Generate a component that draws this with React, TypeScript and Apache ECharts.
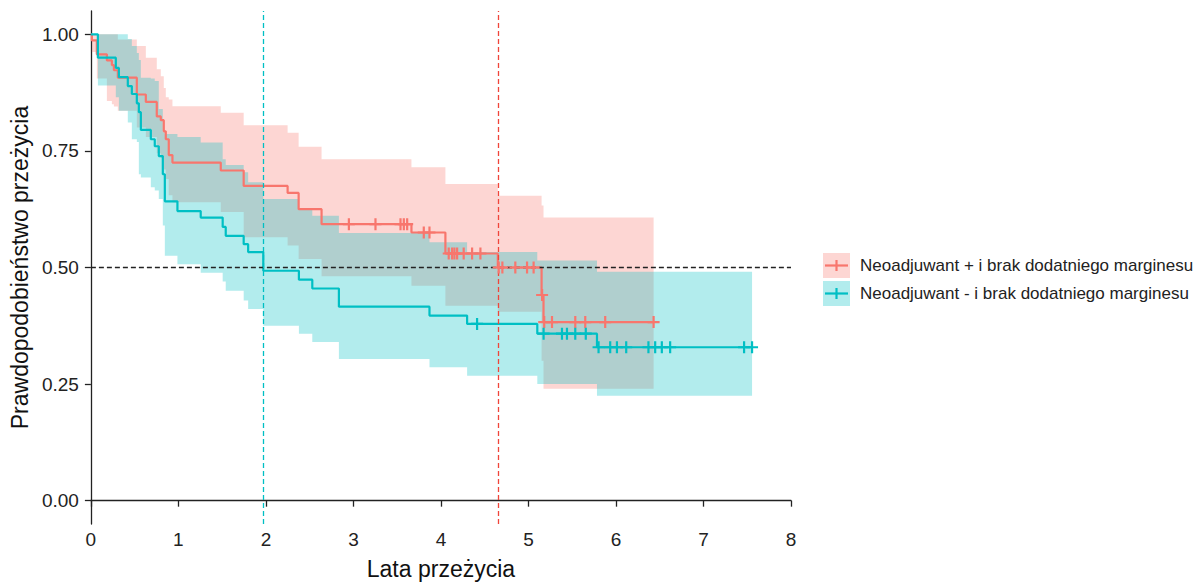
import React, { useEffect, useRef } from "react";
import * as echarts from "echarts";

const groupNames = [
  "Neoadjuwant + i brak dodatniego marginesu",
  "Neoadjuwant - i brak dodatniego marginesu",
];
const RED = "#F8766D";
const TEAL = "#00BFC4";

// Kaplan-Meier: Neoadjuwant +
const redTime = [0, 0.011, 0.068, 0.183, 0.24, 0.263, 0.308, 0.525, 0.628, 0.753, 0.799, 0.833, 0.856, 0.89, 0.932, 1.484, 1.746, 2.248, 2.374, 2.636, 3.663, 4.051, 4.65, 5.15, 5.172, 6.43];
const redSurv = [1.0, 0.987, 0.957, 0.944, 0.934, 0.923, 0.907, 0.871, 0.855, 0.824, 0.816, 0.792, 0.775, 0.741, 0.725, 0.708, 0.675, 0.66, 0.625, 0.593, 0.575, 0.53, 0.5, 0.441, 0.383, 0.383];
const redUpper = [1.0, 1.0, 1.0, 1.0, 1.0, 1.0, 0.989, 0.975, 0.95, 0.925, 0.91, 0.885, 0.865, 0.86, 0.846, 0.832, 0.805, 0.789, 0.759, 0.732, 0.715, 0.679, 0.654, 0.633, 0.607, 0.607];
const redLower = [1.0, 0.962, 0.905, 0.857, 0.85, 0.845, 0.836, 0.8, 0.78, 0.745, 0.735, 0.71, 0.69, 0.655, 0.64, 0.619, 0.565, 0.547, 0.518, 0.481, 0.461, 0.418, 0.405, 0.3, 0.24, 0.24];
const redCensor = [2.948, 3.252, 3.538, 3.576, 3.614, 3.804, 3.869, 4.089, 4.128, 4.154, 4.185, 4.26, 4.356, 4.451, 4.66, 4.702, 4.85, 4.984, 5.059, 5.156, 5.18, 5.269, 5.535, 5.649, 5.877, 6.43];

// Kaplan-Meier: Neoadjuwant -
const tealTime = [0, 0.08, 0.285, 0.32, 0.422, 0.468, 0.525, 0.548, 0.571, 0.685, 0.73, 0.776, 0.822, 0.845, 0.989, 1.255, 1.506, 1.541, 1.746, 1.797, 1.97, 2.377, 2.53, 2.834, 3.869, 4.299, 5.101, 5.783, 7.555];
const tealSurv = [1.0, 0.95, 0.928, 0.908, 0.889, 0.872, 0.852, 0.833, 0.795, 0.775, 0.76, 0.739, 0.7, 0.642, 0.621, 0.607, 0.587, 0.568, 0.55, 0.533, 0.493, 0.474, 0.455, 0.416, 0.397, 0.379, 0.358, 0.329, 0.329];
const tealUpper = [1.0, 1.0, 1.0, 1.0, 0.99, 0.975, 0.96, 0.945, 0.907, 0.905, 0.9, 0.84, 0.79, 0.786, 0.78, 0.768, 0.732, 0.72, 0.704, 0.683, 0.647, 0.625, 0.611, 0.574, 0.554, 0.533, 0.515, 0.491, 0.491];
const tealLower = [1.0, 0.89, 0.865, 0.836, 0.811, 0.775, 0.769, 0.7, 0.693, 0.672, 0.665, 0.647, 0.59, 0.525, 0.507, 0.489, 0.47, 0.45, 0.429, 0.411, 0.375, 0.358, 0.34, 0.304, 0.286, 0.268, 0.25, 0.225, 0.225];
const tealCensor = [4.413, 5.173, 5.383, 5.44, 5.535, 5.655, 5.801, 5.934, 6.011, 6.117, 6.371, 6.448, 6.524, 6.619, 7.464, 7.555];

const medianTimes = [1.97, 4.65];
const yTicks = [0, 0.25, 0.5, 0.75, 1.0];

const PLUS = "path://M4.9,0H7.1V4.9H12V7.1H7.1V12H4.9V7.1H0V4.9H4.9Z";
const FONT = "Liberation Sans";
const AXIS_COLOR = "#222";

function survAt(times: number[], surv: number[], t: number) {
  let v = surv[0];
  for (let i = 0; i < times.length; i++) if (times[i] <= t) v = surv[i];
  return v;
}

function ribbon(name: string, times: number[], lo: number[], up: number[], fill: string) {
  const n = times.length;
  return {
    type: "custom",
    name: name + "-ci",
    silent: true,
    clip: true,
    encode: { x: 0, y: [1, 2] },
    data: times.map((t, i) => [t, lo[i], up[i]]),
    renderItem: (params: any, api: any) => {
      if (params.dataIndex !== 0) return null;
      const pts: number[][] = [];
      for (let i = 0; i < n; i++) {
        const x1 = i < n - 1 ? times[i + 1] : times[i];
        pts.push(api.coord([times[i], up[i]]));
        pts.push(api.coord([x1, up[i]]));
      }
      for (let i = n - 1; i >= 0; i--) {
        const x1 = i < n - 1 ? times[i + 1] : times[i];
        pts.push(api.coord([x1, lo[i]]));
        pts.push(api.coord([times[i], lo[i]]));
      }
      return { type: "polygon", shape: { points: pts }, style: { fill, stroke: null } };
    },
  };
}

function kmLine(name: string, times: number[], surv: number[], color: string) {
  return {
    type: "line",
    name,
    step: "end",
    symbol: "none",
    silent: true,
    lineStyle: { color, width: 2.2 },
    data: times.map((t, i) => [t, surv[i]]),
  };
}

function censor(name: string, cens: number[], times: number[], surv: number[], color: string) {
  return {
    type: "scatter",
    name: name + "-censor",
    symbol: PLUS,
    symbolSize: 12,
    silent: true,
    z: 5,
    itemStyle: { color, opacity: 1 },
    data: cens.map((t) => [t, survAt(times, surv, t)]),
  };
}

function legendItem(y: number, color: string, fill: string, text: string) {
  const cy = y + 12.5;
  return [
    { type: "rect", shape: { x: 823, y, width: 27, height: 25 }, style: { fill } },
    { type: "line", shape: { x1: 825, y1: cy, x2: 848, y2: cy }, style: { stroke: color, lineWidth: 2.2 } },
    { type: "line", shape: { x1: 836.5, y1: cy - 5.5, x2: 836.5, y2: cy + 5.5 }, style: { stroke: color, lineWidth: 2.2 } },
    {
      type: "text",
      x: 860,
      y: cy,
      style: { text, fill: "#222", font: `17px "${FONT}"`, verticalAlign: "middle", align: "left" },
    },
  ];
}

export default function App() {
  const ref = useRef<HTMLDivElement>(null);
  useEffect(() => {
    if (!ref.current) return;
    const chart = echarts.init(ref.current, null, { renderer: "svg" });
    chart.setOption({
      animation: false,
      backgroundColor: "#fff",
      textStyle: { fontFamily: FONT },
      grid: { left: 90, top: 11, width: 701, height: 513, containLabel: false },
      xAxis: {
        type: "value",
        min: 0,
        max: 8,
        interval: 1,
        name: "Lata przeżycia",
        nameLocation: "middle",
        nameGap: 33,
        nameTextStyle: { fontSize: 23, color: "#111", fontFamily: FONT },
        axisLabel: { fontSize: 19, color: "#222", margin: 6, fontFamily: FONT },
        axisLine: { show: true, lineStyle: { color: AXIS_COLOR, width: 1.3 } },
        axisTick: { show: true, length: 6, lineStyle: { color: AXIS_COLOR, width: 1.3 } },
        splitLine: { show: false },
      },
      yAxis: {
        type: "value",
        min: -0.05,
        max: 1.05,
        name: "Prawdopodobieństwo przeżycia",
        nameLocation: "middle",
        nameGap: 56,
        nameTextStyle: { fontSize: 23, color: "#111", fontFamily: FONT },
        axisLabel: {
          fontSize: 19,
          color: "#222",
          margin: 12,
          fontFamily: FONT,
          customValues: yTicks,
          formatter: (v: number) => v.toFixed(2),
        },
        axisLine: { show: true, lineStyle: { color: AXIS_COLOR, width: 1.3 } },
        axisTick: { show: true, length: 6, lineStyle: { color: AXIS_COLOR, width: 1.3 }, customValues: yTicks },
        splitLine: { show: false },
      },
      series: [
        ribbon("red", redTime, redLower, redUpper, "rgba(248,118,109,0.3)"),
        kmLine(groupNames[0], redTime, redSurv, RED),
        ribbon("teal", tealTime, tealLower, tealUpper, "rgba(0,191,196,0.3)"),
        kmLine(groupNames[1], tealTime, tealSurv, TEAL),
        {
          type: "line",
          name: "median",
          data: [],
          silent: true,
          markLine: {
            silent: true,
            symbol: "none",
            label: { show: false },
            animation: false,
            data: [
              { yAxis: 0.5, lineStyle: { color: "#222", type: [5, 3], width: 1.3 } },
              { xAxis: medianTimes[0], lineStyle: { color: TEAL, type: [5, 3], width: 1.3 } },
              { xAxis: medianTimes[1], lineStyle: { color: "#F0453A", type: [5, 3], width: 1.3 } },
            ],
          },
        },
        censor("red", redCensor, redTime, redSurv, RED),
        censor("teal", tealCensor, tealTime, tealSurv, TEAL),
      ],
      graphic: [
        ...legendItem(253, RED, "rgba(248,118,109,0.3)", groupNames[0]),
        ...legendItem(281, TEAL, "rgba(0,191,196,0.3)", groupNames[1]),
      ],
    });
    return () => chart.dispose();
  }, []);
  return (
    <div
      ref={ref}
      style={{ position: "fixed", left: 0, top: 0, width: 1199, height: 586, background: "#fff" }}
    />
  );
}
